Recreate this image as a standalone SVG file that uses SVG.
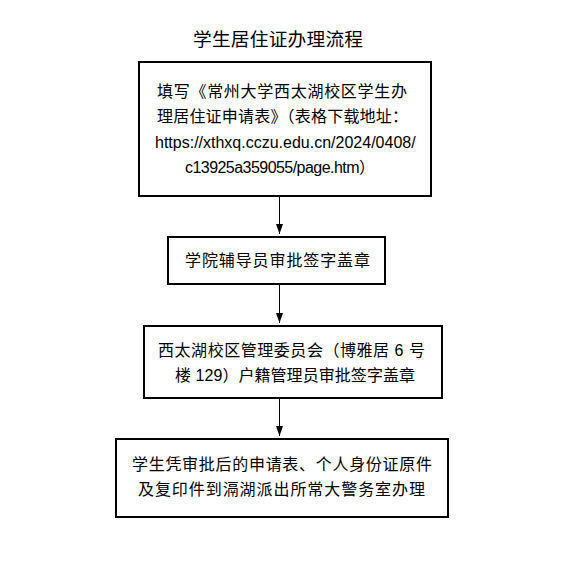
<svg xmlns="http://www.w3.org/2000/svg" width="577" height="585" viewBox="0 0 577 585">
<style>
.box{fill:#fff;stroke:#000;stroke-width:2}
.t{font-family:"Liberation Sans","Noto Sans CJK SC",sans-serif;font-size:16px;fill:#000}
.title{font-family:"Liberation Sans","Noto Sans CJK SC",sans-serif;font-size:18.7px;fill:#000}
.c{stroke:#000;stroke-width:1;fill:none}
</style>
<defs>
<marker id="ah" markerUnits="userSpaceOnUse" markerWidth="10" markerHeight="8" refX="10" refY="4" orient="auto">
<path d="M0,0.5 L10,4 L0,7.5 z" fill="#000"/>
</marker>
</defs>
<rect width="577" height="585" fill="#fff"/>
<text class="title" x="193" y="46" textLength="170" lengthAdjust="spacing">学生居住证办理流程</text>
<g id="connectors">
<line class="c" x1="279.5" y1="197" x2="279.5" y2="234" marker-end="url(#ah)"/>
<line class="c" x1="279.5" y1="285" x2="279.5" y2="323" marker-end="url(#ah)"/>
<line class="c" x1="279.5" y1="399" x2="279.5" y2="436" marker-end="url(#ah)"/>
</g>
<g id="node1">
<rect class="box" x="139" y="62" width="292" height="134"/>
<text class="t" x="157" y="97" textLength="250" lengthAdjust="spacing">填写《常州大学西太湖校区学生办</text>
<text class="t" x="157" y="122" textLength="251" lengthAdjust="spacing">理居住证申请表》（表格下载地址：</text>
<text class="t" x="155" y="148">https://xthxq.cczu.edu.cn/2024/0408/</text>
<text class="t" x="185" y="173" textLength="190" lengthAdjust="spacing">c13925a359055/page.htm）</text>
</g>
<g id="node2">
<rect class="box" x="168" y="237" width="217" height="47"/>
<text class="t" x="185" y="266" textLength="185" lengthAdjust="spacing">学院辅导员审批签字盖章</text>
</g>
<g id="node3">
<rect class="box" x="144" y="326" width="298" height="72"/>
<text class="t" x="158" y="356" textLength="267" lengthAdjust="spacing">西太湖校区管理委员会（博雅居 6 号</text>
<text class="t" x="175" y="381" textLength="240" lengthAdjust="spacing">楼 129）户籍管理员审批签字盖章</text>
</g>
<g id="node4">
<rect class="box" x="116" y="439" width="332" height="78"/>
<text class="t" x="132" y="470" textLength="300" lengthAdjust="spacing">学生凭审批后的申请表、个人身份证原件</text>
<text class="t" x="138" y="495" textLength="287" lengthAdjust="spacing">及复印件到滆湖派出所常大警务室办理</text>
</g>
</svg>
